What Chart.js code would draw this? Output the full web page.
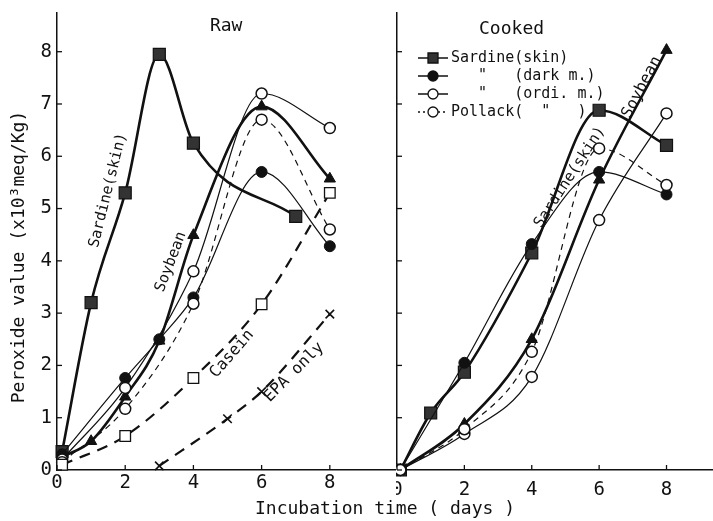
<!DOCTYPE html>
<html lang="en">
<head>
<meta charset="utf-8">
<title>Peroxide value: Raw vs Cooked</title>
<script src="https://cdn.jsdelivr.net/npm/chart.js"></script>
<style>
  body { margin: 0; background: #fff; }
  #wrap { position: relative; width: 713px; height: 521px; }
  #rawChart { position: absolute; left: 0; top: 0; }
  #cookedChart { position: absolute; left: 396px; top: 0; }
</style>
</head>
<body>
<div id="wrap">
  <canvas id="rawChart" width="713" height="521"></canvas>
  <canvas id="cookedChart" width="317" height="521"></canvas>
</div>
<script>
  const FONT = "'DejaVu Sans Mono', monospace";
  const INK = "#111";

  // Raw panel (days, peroxide value x10^3 meq/Kg)
  const rawSardineSkinX = [0.15, 1, 2, 3, 4, 7];
  const rawSardineSkinY = [0.35, 3.2, 5.3, 7.95, 6.25, 4.85];
  const rawSoybeanX = [0.15, 1, 2, 3, 4, 6, 8];
  const rawSoybeanY = [0.25, 0.55, 1.4, 2.47, 4.49, 6.95, 5.57];
  const rawDarkX = [0.15, 2, 3, 4, 6, 8];
  const rawDarkY = [0.3, 1.76, 2.5, 3.3, 5.7, 4.28];
  const rawOrdiX = [0.15, 2, 4, 6, 8];
  const rawOrdiY = [0.2, 1.57, 3.8, 7.2, 6.54];
  const rawPollackX = [0.15, 2, 4, 6, 8];
  const rawPollackY = [0.15, 1.17, 3.18, 6.7, 4.6];
  const rawCaseinX = [0.15, 2, 4, 6, 8];
  const rawCaseinY = [0.1, 0.65, 1.76, 3.17, 5.3];
  const rawEpaX = [3, 5, 6, 8];
  const rawEpaY = [0.08, 0.98, 1.5, 2.98];

  // Cooked panel
  const cookedSardineSkinX = [0.1, 1, 2, 4, 6, 8];
  const cookedSardineSkinY = [0, 1.09, 1.87, 4.15, 6.88, 6.21];
  const cookedDarkX = [0.1, 2, 4, 6, 8];
  const cookedDarkY = [0, 2.05, 4.32, 5.7, 5.27];
  const cookedSoybeanX = [0.1, 2, 4, 6, 8];
  const cookedSoybeanY = [0, 0.88, 2.5, 5.55, 8.03];
  const cookedOrdiX = [0.1, 2, 4, 6, 8];
  const cookedOrdiY = [0, 0.69, 1.78, 4.78, 6.82];
  const cookedPollackX = [0.1, 2, 4, 6, 8];
  const cookedPollackY = [0, 0.78, 2.26, 6.15, 5.45];

  const pts = (xs, ys) => xs.map((x, i) => ({x, y: ys[i]}));

  const LINES = {
    thick: {borderWidth: 2.6, borderDash: []},
    thin: {borderWidth: 1.2, borderDash: []},
    thinDash: {borderWidth: 1.2, borderDash: [6, 5]},
    thickDash: {borderWidth: 2.2, borderDash: [11, 8]},
  };
  const MARKS = {
    fSquare: {pointStyle: "rect", pointRadius: 8.5, pointBackgroundColor: "#333", pointBorderWidth: 1.2},
    fCircle: {pointStyle: "circle", pointRadius: 5.5, pointBackgroundColor: INK, pointBorderWidth: 1},
    oCircle: {pointStyle: "circle", pointRadius: 5.5, pointBackgroundColor: "#fff", pointBorderWidth: 1.5},
    fTriangle: {pointStyle: "triangle", pointRadius: 6.5, pointBackgroundColor: INK, pointBorderWidth: 1},
    oSquare: {pointStyle: "rect", pointRadius: 7.5, pointBackgroundColor: "#fff", pointBorderWidth: 1.3},
    cross: {pointStyle: "crossRot", pointRadius: 6, pointBackgroundColor: INK, pointBorderWidth: 1.6},
  };

  const series = (label, data, line, mark) => Object.assign({
    label, data,
    borderColor: INK,
    pointBorderColor: INK,
    cubicInterpolationMode: "monotone",
    fill: false,
    clip: false,
  }, LINES[line], MARKS[mark]);

  // ticks pointing into the plot
  const inwardTicks = {
    id: "inwardTicks",
    afterDraw(chart) {
      const {ctx, chartArea, scales} = chart;
      ctx.save();
      ctx.strokeStyle = INK;
      ctx.lineWidth = 1.3;
      scales.x.ticks.forEach(t => {
        const px = scales.x.getPixelForValue(t.value);
        ctx.beginPath();
        ctx.moveTo(px, chartArea.bottom);
        ctx.lineTo(px, chartArea.bottom - 5);
        ctx.stroke();
      });
      scales.y.ticks.forEach(t => {
        const py = scales.y.getPixelForValue(t.value);
        ctx.beginPath();
        ctx.moveTo(chartArea.left, py);
        ctx.lineTo(chartArea.left + 5, py);
        ctx.stroke();
      });
      ctx.restore();
    }
  };

  // text notes placed in data units, plus free texts in canvas pixels
  const notes = {
    id: "notes",
    afterDatasetsDraw(chart, args, opts) {
      const {ctx, scales} = chart;
      ctx.save();
      ctx.fillStyle = INK;
      ctx.textAlign = "center";
      ctx.textBaseline = "middle";
      (opts.items || []).forEach(n => {
        const px = n.px != null ? n.px : scales.x.getPixelForValue(n.x);
        const py = n.py != null ? n.py : scales.y.getPixelForValue(n.y);
        ctx.save();
        ctx.translate(px, py);
        ctx.rotate((n.rot || 0) * Math.PI / 180);
        ctx.font = `${n.size}px ${FONT}`;
        ctx.fillText(n.text, 0, 0);
        ctx.restore();
      });
      ctx.restore();
    }
  };

  function drawMark(ctx, kind, x, y) {
    ctx.save();
    ctx.strokeStyle = INK;
    ctx.lineWidth = 1.3;
    ctx.beginPath();
    if (kind === "fSquare") {
      ctx.fillStyle = "#333";
      ctx.rect(x - 5, y - 5, 10, 10);
      ctx.fill();
    } else {
      ctx.arc(x, y, 5, 0, Math.PI * 2);
      ctx.fillStyle = kind === "fCircle" ? INK : "#fff";
      ctx.fill();
    }
    ctx.stroke();
    ctx.restore();
  }

  const keyBox = {
    id: "keyBox",
    afterDraw(chart, args, opts) {
      const ctx = chart.ctx;
      ctx.save();
      ctx.fillStyle = INK;
      ctx.textBaseline = "middle";
      ctx.textAlign = "left";
      ctx.font = `15px ${FONT}`;
      opts.items.forEach((it, i) => {
        const y = opts.top + i * opts.gap;
        ctx.strokeStyle = INK;
        ctx.lineWidth = 1.5;
        ctx.setLineDash(it.dash);
        ctx.beginPath();
        ctx.moveTo(opts.left, y);
        ctx.lineTo(opts.left + 30, y);
        ctx.stroke();
        ctx.setLineDash([]);
        drawMark(ctx, it.mark, opts.left + 15, y);
        ctx.fillText(it.text, opts.left + 33, y);
      });
      ctx.restore();
    }
  };

  const tickFont = {family: FONT, size: 19};

  function scalesFor(xMax, yTicks, xPad) {
    return {
      x: {
        type: "linear", min: 0, max: xMax,
        afterFit: s => { s.height = 51; s.paddingLeft = 0; s.paddingRight = 0; },
        grid: {display: false, drawTicks: false},
        border: {color: INK, width: 1.5},
        ticks: {
          stepSize: 2, includeBounds: false, color: INK, font: tickFont,
          padding: xPad, maxRotation: 0,
          callback: v => (v <= 8 ? v : ""),
        },
      },
      y: {
        type: "linear", min: 0, max: 8.74,
        afterFit: s => { s.width = yTicks ? 57 : 1; s.paddingTop = 0; s.paddingBottom = 0; },
        grid: {display: false, drawTicks: false},
        border: {color: INK, width: 1.5},
        ticks: {stepSize: 1, includeBounds: false, display: yTicks, color: INK, font: tickFont, padding: 5},
      },
    };
  }

  new Chart(document.getElementById("rawChart"), {
    type: "line",
    data: {
      datasets: [
        series("Casein", pts(rawCaseinX, rawCaseinY), "thickDash", "oSquare"),
        series("EPA only", pts(rawEpaX, rawEpaY), "thickDash", "cross"),
        series("Pollack (ordi. m.)", pts(rawPollackX, rawPollackY), "thinDash", "oCircle"),
        series("Sardine (ordi. m.)", pts(rawOrdiX, rawOrdiY), "thin", "oCircle"),
        series("Sardine (dark m.)", pts(rawDarkX, rawDarkY), "thin", "fCircle"),
        series("Soybean", pts(rawSoybeanX, rawSoybeanY), "thick", "fTriangle"),
        series("Sardine (skin)", pts(rawSardineSkinX, rawSardineSkinY), "thick", "fSquare"),
      ]
    },
    options: {
      responsive: false,
      animation: false,
      layout: {autoPadding: false, padding: {top: 13, right: 316, left: 0, bottom: 0}},
      scales: scalesFor(9.97, true, 2),
      plugins: {
        legend: {display: false},
        tooltip: {enabled: false},
        notes: {items: [
          {text: "Raw", x: 4.96, y: 8.48, size: 18},
          {text: "Sardine(skin)", x: 1.5, y: 5.35, rot: -76, size: 15},
          {text: "Soybean", x: 3.34, y: 3.98, rot: -69, size: 15},
          {text: "Casein", x: 5.13, y: 2.22, rot: -49, size: 16},
          {text: "EPA only", x: 6.95, y: 1.87, rot: -45, size: 16},
          {text: "Peroxide value (x10³meq/Kg)", px: 19, py: 257, rot: -90, size: 18},
          {text: "Incubation time ( days )", px: 385, py: 509, size: 18},
        ]},
      },
    },
    plugins: [inwardTicks, notes],
  });

  new Chart(document.getElementById("cookedChart"), {
    type: "line",
    data: {
      datasets: [
        series("Pollack (ordi. m.)", pts(cookedPollackX, cookedPollackY), "thinDash", "oCircle"),
        series("Sardine (ordi. m.)", pts(cookedOrdiX, cookedOrdiY), "thin", "oCircle"),
        series("Soybean", pts(cookedSoybeanX, cookedSoybeanY), "thick", "fTriangle"),
        series("Sardine (dark m.)", pts(cookedDarkX, cookedDarkY), "thin", "fCircle"),
        series("Sardine (skin)", pts(cookedSardineSkinX, cookedSardineSkinY), "thick", "fSquare"),
      ]
    },
    options: {
      responsive: false,
      animation: false,
      layout: {autoPadding: false, padding: {top: 13, right: 0, left: 0, bottom: 0}},
      scales: scalesFor(9.38, false, 9),
      plugins: {
        legend: {display: false},
        tooltip: {enabled: false},
        notes: {items: [
          {text: "Cooked", x: 3.4, y: 8.43, size: 18},
          {text: "Sardine(skin)", x: 5.13, y: 5.6, rot: -57, size: 15},
          {text: "Soybean", x: 7.27, y: 7.32, rot: -62, size: 16},
        ]},
        keyBox: {
          left: 22, top: 58, gap: 18,
          items: [
            {text: "Sardine(skin)", mark: "fSquare", dash: []},
            {text: "   \"   (dark m.)", mark: "fCircle", dash: []},
            {text: "   \"   (ordi. m.)", mark: "oCircle", dash: []},
            {text: "Pollack(  \"   )", mark: "oCircle", dash: [2, 3]},
          ],
        },
      },
    },
    plugins: [inwardTicks, notes, keyBox],
  });
</script>
</body>
</html>
